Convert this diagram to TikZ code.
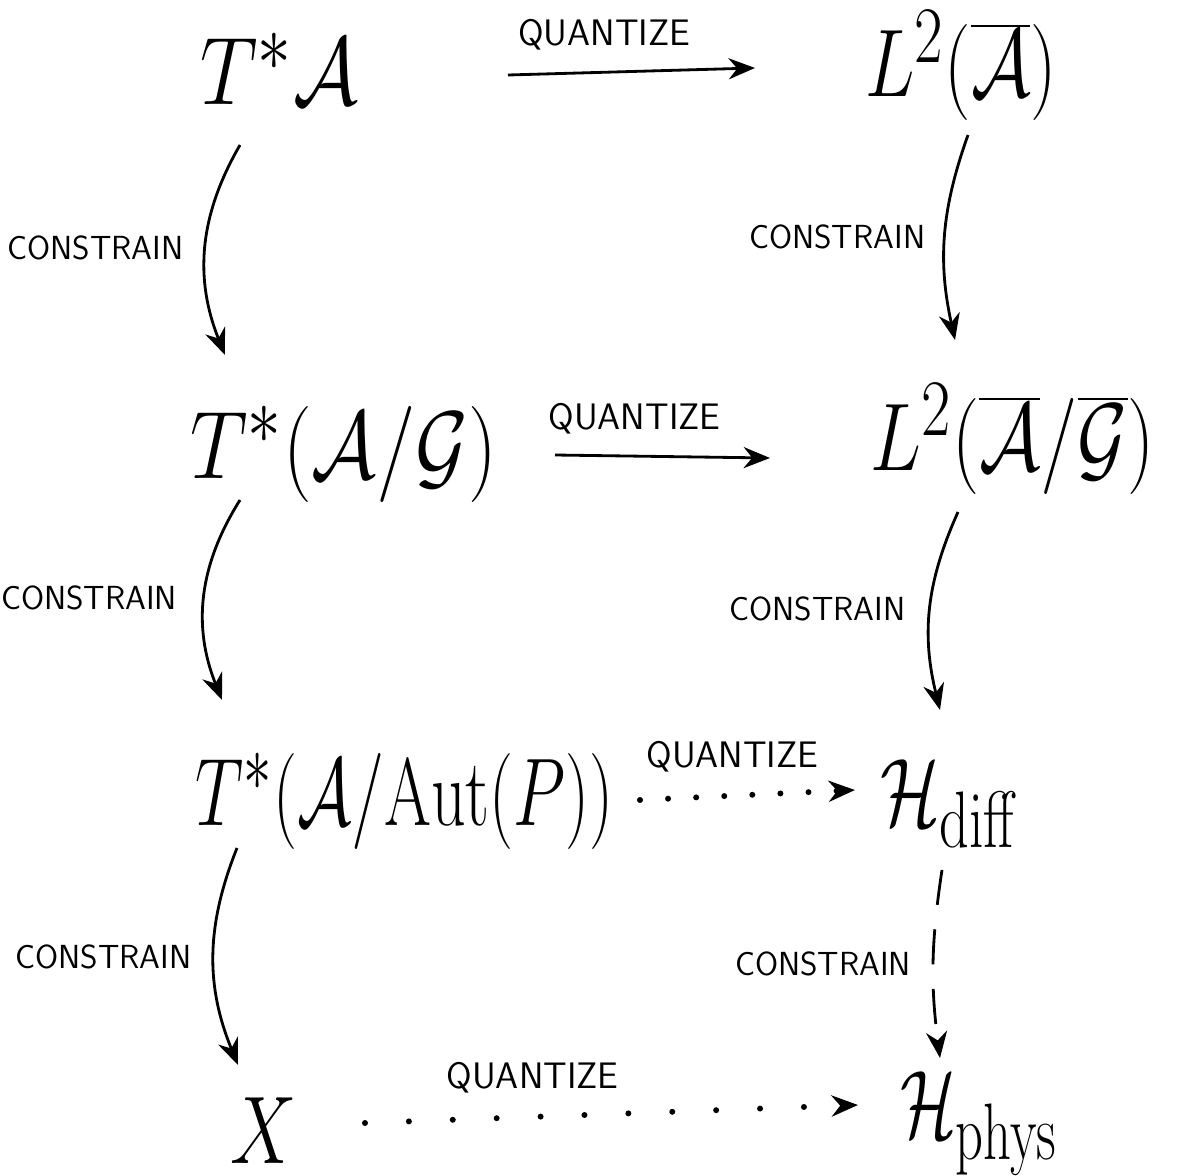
\documentclass[tikz,border=0pt]{standalone}
\usepackage{graphicx}
\usetikzlibrary{arrows.meta, positioning, calc}

\newcommand{\hand}[2][1.7]{\scalebox{#1}[2.2]{$#2$}}

\begin{document}
\begin{tikzpicture}[
    x=0.02cm, y=-0.02cm,
    obj/.style={inner sep=0pt, anchor=base west, font=\Huge},
    lbl/.style={font=\sffamily\fontsize{19}{22}\selectfont},
    qlbl/.style={font=\sffamily\fontsize{21}{24}\selectfont},
    arrow/.style={line width=1.6pt, -{Stealth[length=15pt,width=12pt]}},
    dotarrow/.style={arrow, line cap=round, line width=3.4pt, dash pattern=on 0pt off 16pt},
    dasharrow/.style={arrow, dash pattern=on 20pt off 14pt}
]
\useasboundingbox (0,0) rectangle (1198,1176);

% Classical side
\node[obj] (tA) at (200,105) {\hand[1.85]{T^*\mathcal{A}}};
\node[obj] (tAG) at (190,478) {\hand[1.85]{T^*(\mathcal{A}/\mathcal{G})}};
\node[obj] (tAut) at (195,825) {\hand[1.55]{T^*(\mathcal{A}/\mathrm{Aut}(P))}};
\node[obj] (xx) at (230,1163) {\hand{X}};

% Quantum side
\node[obj] (lA) at (865,97) {\hand{L^2(\overline{\mathcal{A}})}};
\node[obj] (lAG) at (870,470) {\hand[1.75]{L^2(\overline{\mathcal{A}}/\overline{\mathcal{G}})}};
\node[obj] (hdiff) at (880,825) {\hand[1.6]{\mathcal{H}_{\mathrm{diff}}}};
\node[obj] (hphys) at (900,1137) {\hand[1.5]{\mathcal{H}_{\mathrm{phys}}}};

% Quantize
\draw[arrow] ($(tA.base west)+(308,-30)$) -- ($(lA.base west)+(-110,-29)$)
    node[qlbl, above=0.3cm, pos=0.39] (q1) {QUANTIZE};
\draw[arrow] ($(tAG.base west)+(365,-23)$) -- ($(lAG.base west)+(-100,-12)$)
    node[qlbl, above=0.3cm, pos=0.37] (q2) {QUANTIZE};
\draw[dotarrow] ($(tAut.base west)+(445,-25)$) -- ($(hdiff.base west)+(-25,-35)$)
    node[qlbl, above=0.3cm, pos=0.43] (q3) {QUANTIZE};
\draw[dotarrow, dash pattern=on 0pt off 25pt] ($(xx.base west)+(135,-40)$) -- ($(hphys.base west)+(-42,-32)$)
    node[qlbl, above=0.3cm, pos=0.34] (q4) {QUANTIZE};

% Constrain
\draw[arrow] ($(tA.base west)+(40,40)$) to[bend right=26]
    node[lbl, left=0.3cm] (c1) {CONSTRAIN} ($(tAG.base west)+(35,-123)$);
\draw[arrow] ($(lA.base west)+(103,38)$) to[bend right=16]
    node[lbl, left=0.25cm] (c2) {CONSTRAIN} ($(lAG.base west)+(85,-130)$);
\draw[arrow] ($(tAG.base west)+(50,22)$) to[bend right=27]
    node[lbl, left=0.4cm] (c3) {CONSTRAIN} ($(tAut.base west)+(27,-125)$);
\draw[arrow] ($(lAG.base west)+(88,42)$) to[bend right=19]
    node[lbl, left=0.35cm] (c4) {CONSTRAIN} ($(hdiff.base west)+(60,-115)$);
\draw[arrow] ($(tAut.base west)+(42,23)$) to[bend right=22]
    node[lbl, left=0.3cm] (c5) {CONSTRAIN} ($(xx.base west)+(8,-98)$);
\draw[dasharrow] ($(hdiff.base west)+(62,45)$) to[bend right=8]
    node[lbl, left=0.3cm] (c6) {CONSTRAIN} ($(hphys.base west)+(40,-79)$);

\end{tikzpicture}
\end{document}
